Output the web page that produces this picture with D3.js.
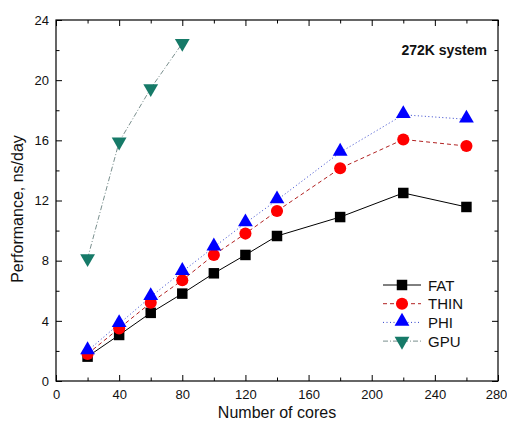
<!DOCTYPE html>
<html>
<head>
<meta charset="utf-8">
<script src="https://cdn.jsdelivr.net/npm/d3@7"></script>
<style>
  html, body { margin: 0; padding: 0; background: #fff; }
  svg text { font-family: "Liberation Sans", Arial, sans-serif; fill: #111; }
</style>
</head>
<body>
<svg id="chart" width="507" height="428"></svg>
<script>
// Performance (ns/day) versus number of cores, 272K-atom system
const cores = [20, 40, 60, 80, 100, 120, 140, 180, 220, 260];
const fat  = [1.62, 3.06, 4.53, 5.81, 7.16, 8.38, 9.64, 10.9, 12.5, 11.57];
const thin = [1.8, 3.5, 5.2, 6.7, 8.38, 9.8, 11.3, 14.14, 16.06, 15.62];
const phi  = [2.0, 3.8, 5.6, 7.27, 8.9, 10.5, 12.03, 15.2, 17.7, 17.4];
const gpuCores = [20, 40, 60, 80];
const gpu  = [8.15, 15.9, 19.45, 22.45];

const xTicks = [0, 40, 80, 120, 160, 200, 240, 280];
const yTicks = [0, 4, 8, 12, 16, 20, 24];

const series = [
  { name: "FAT",  xs: cores,    ys: fat,  color: "#000000", line: "#000000", dash: null,       symbol: "square" },
  { name: "THIN", xs: cores,    ys: thin, color: "#ff0000", line: "#b22222", dash: "4,3",      symbol: "circle" },
  { name: "PHI",  xs: cores,    ys: phi,  color: "#0000ff", line: "#3344cc", dash: "1,2.5",    symbol: "up" },
  { name: "GPU",  xs: gpuCores, ys: gpu,  color: "#167a68", line: "#7a8f8e", dash: "5,2,1,2",  symbol: "down" }
];

const svg = d3.select("#chart");
const L = 56, R = 498, T = 20, B = 381;

const x = d3.scaleLinear().domain([0, 280]).range([L, R]);
const y = d3.scaleLinear().domain([0, 24]).range([B, T]);

// frame
svg.append("rect").attr("x", L).attr("y", T).attr("width", R - L).attr("height", B - T)
  .attr("fill", "none").attr("stroke", "#000").attr("stroke-width", 1.2);

const minorX = d3.range(20, 280, 40);
const minorY = d3.range(2, 24, 4);

function styleAxis(g) {
  g.select(".domain").remove();
  g.selectAll(".tick line").attr("stroke", "#000").attr("stroke-width", 1);
}

// bottom axis, ticks pointing inward
const gx = svg.append("g").attr("transform", `translate(0,${B})`)
  .call(d3.axisBottom(x).tickValues(xTicks).tickSize(-6).tickPadding(9).tickFormat(d3.format("d")));
styleAxis(gx);
gx.selectAll("text").attr("font-size", 13);
// keep the last label inside the page edge
gx.selectAll("text").filter(d => d === 280).attr("dx", "-2");
svg.append("g").attr("transform", `translate(0,${B})`)
  .call(d3.axisBottom(x).tickValues(minorX).tickSize(-3.5).tickFormat(""))
  .call(styleAxis);

// top mirror
svg.append("g").attr("transform", `translate(0,${T})`)
  .call(d3.axisTop(x).tickValues(xTicks).tickSize(-6).tickFormat("")).call(styleAxis);
svg.append("g").attr("transform", `translate(0,${T})`)
  .call(d3.axisTop(x).tickValues(minorX).tickSize(-3.5).tickFormat("")).call(styleAxis);

// left axis
const gy = svg.append("g").attr("transform", `translate(${L},0)`)
  .call(d3.axisLeft(y).tickValues(yTicks).tickSize(-6).tickPadding(7).tickFormat(d3.format("d")));
styleAxis(gy);
gy.selectAll("text").attr("font-size", 13);
svg.append("g").attr("transform", `translate(${L},0)`)
  .call(d3.axisLeft(y).tickValues(minorY).tickSize(-3.5).tickFormat("")).call(styleAxis);

// right mirror
svg.append("g").attr("transform", `translate(${R},0)`)
  .call(d3.axisRight(y).tickValues(yTicks).tickSize(-6).tickFormat("")).call(styleAxis);
svg.append("g").attr("transform", `translate(${R},0)`)
  .call(d3.axisRight(y).tickValues(minorY).tickSize(-3.5).tickFormat("")).call(styleAxis);

// axis titles
svg.append("text").attr("x", (L + R) / 2).attr("y", 418).attr("text-anchor", "middle")
  .attr("font-size", 16).text("Number of cores");
svg.append("text").attr("transform", `translate(23,209) rotate(-90)`)
  .attr("text-anchor", "middle").attr("font-size", 16).text("Performance, ns/day");

// annotation
svg.append("text").attr("x", 487).attr("y", 55).attr("text-anchor", "end")
  .attr("font-size", 14).attr("font-weight", "bold").text("272K system");

const symbolTypes = { square: d3.symbolSquare, circle: d3.symbolCircle, up: d3.symbolTriangle };
const sizes = { square: 110, circle: 115, up: 95, down: 95 };

function drawMarker(g, s, cx, cy) {
  const p = g.append("path")
    .attr("d", d3.symbol().type(s.symbol === "down" ? d3.symbolTriangle : symbolTypes[s.symbol]).size(sizes[s.symbol])())
    .attr("fill", s.color);
  if (s.symbol === "down") p.attr("transform", `translate(${cx},${cy}) rotate(180)`);
  else if (s.symbol === "up") p.attr("transform", `translate(${cx},${cy - 1})`);
  else p.attr("transform", `translate(${cx},${cy})`);
}

const line = d3.line().x(d => x(d[0])).y(d => y(d[1]));

// lines first, then markers so PHI triangles sit above THIN circles
series.forEach(s => {
  const pts = s.xs.map((v, i) => [v, s.ys[i]]);
  svg.append("path").datum(pts).attr("d", line)
    .attr("fill", "none").attr("stroke", s.line).attr("stroke-width", 1)
    .attr("stroke-dasharray", s.dash);
});
series.forEach(s => {
  const g = svg.append("g");
  s.xs.forEach((v, i) => drawMarker(g, s, x(v), y(s.ys[i])));
});

// legend
const lg = svg.append("g");
series.forEach((s, i) => {
  const ly = 285 + i * 18.7;
  lg.append("line").attr("x1", 383).attr("x2", 421).attr("y1", ly).attr("y2", ly)
    .attr("stroke", s.line).attr("stroke-width", 1).attr("stroke-dasharray", s.dash);
  drawMarker(lg, s, 402, ly);
  lg.append("text").attr("x", 428).attr("y", ly + 5.5).attr("font-size", 15).text(s.name);
});
</script>
</body>
</html>
